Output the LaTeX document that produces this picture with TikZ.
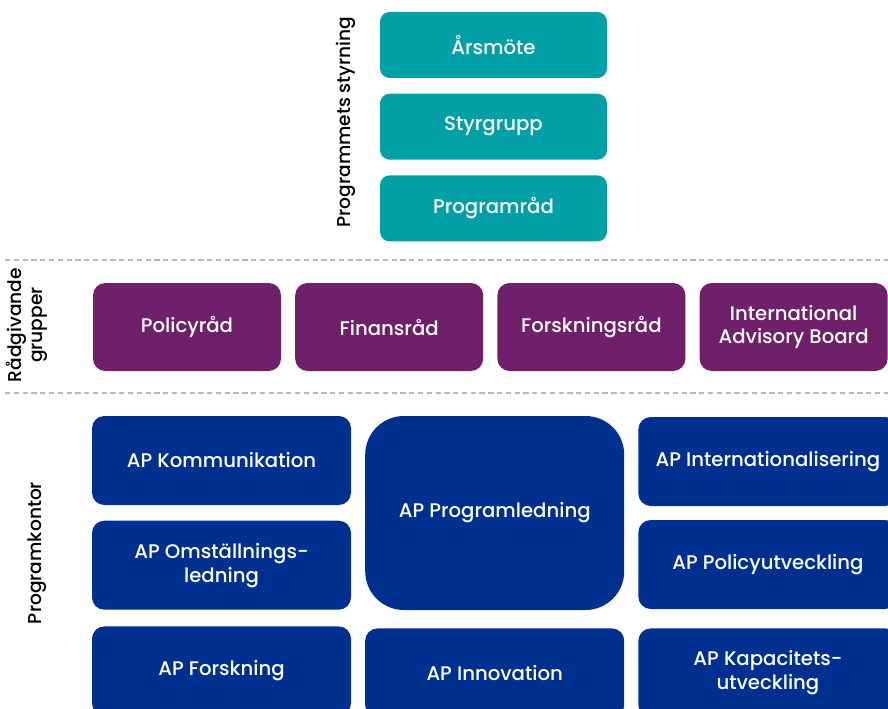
\documentclass[tikz,border=0pt]{standalone}
\usepackage{fontspec}
\setmainfont{Poppins}[UprightFont={* Medium}]
\usetikzlibrary{positioning}
\definecolor{styrteal}{HTML}{00A0A6}
\definecolor{radlila}{HTML}{70206A}
\definecolor{kontorblue}{HTML}{00308F}
\tikzset{box/.style={rectangle, rounded corners=7pt, text=white, align=center, inner sep=0pt, font=\fontsize{11.2}{13.6}\selectfont},
  styrbox/.style={box, fill=styrteal, minimum width=4.54cm, minimum height=1.32cm, rounded corners=5.5pt},
  radbox/.style={box, fill=radlila, minimum width=3.76cm, minimum height=1.76cm},
  apbox/.style={box, fill=kontorblue, minimum width=5.18cm, minimum height=1.78cm},
  sidelabel/.style={rotate=90, align=center, font=\fontsize{10.6}{12.2}\selectfont},
  divider/.style={draw=black!28, dash pattern=on 3pt off 2pt, line width=0.6pt}}

\begin{document}
\begin{tikzpicture}
    \useasboundingbox (0,0) rectangle (17.76,-14.18);
    \clip (0,0) rectangle (17.76,-14.18);
    % styrning
    \node[styrbox] (arsmote) at (9.87,-0.9) {Årsmöte};
    \node[styrbox, below=0.3cm of arsmote] (styrgrupp) {Styrgrupp};
    \node[styrbox, below=0.3cm of styrgrupp] (programrad) {Programråd};
    \node[sidelabel] (styrning) at (6.92,-2.44) {Programmets styrning};
    \draw[divider] (0.1,-5.2) -- (17.76,-5.2);
    % radgivande grupper
    \node[radbox] (policyrad) at (3.74,-6.54) {Policyråd};
    \node[radbox, right=0.27cm of policyrad] (finansrad) {Finansråd};
    \node[radbox, right=0.27cm of finansrad] (forskningsrad) {Forskningsråd};
    \node[radbox, right=0.27cm of forskningsrad] (iab) {International\\Advisory Board};
    \node[sidelabel] (radgivande) at (0.54,-6.5) {Rådgivande\\grupper};
    \draw[divider] (0.1,-7.86) -- (17.76,-7.86);
    % programkontor
    \node[apbox] (kommunikation) at (4.43,-9.21) {AP Kommunikation};
    \node[apbox, below=0.3cm of kommunikation] (omstallning) {AP Omställnings-\\ledning};
    \node[apbox, below=0.32cm of omstallning] (forskning) {AP Forskning};
    \node[apbox, minimum height=3.88cm, rounded corners=22pt, right=0.27cm of kommunikation.north east, anchor=north west] (programledning) {AP Programledning};
    \node[apbox, right=0.27cm of forskning.north east, anchor=north west, yshift=-0.04cm] (innovation) {AP Innovation};
    \node[apbox, right=0.27cm of programledning.north east, anchor=north west, yshift=-0.02cm] (internationalisering) {AP Internationalisering};
    \node[apbox, right=0.27cm of programledning.east, anchor=west, yshift=-1.03cm] (policyutveckling) {AP Policyutveckling};
    \node[apbox, right=0.27cm of innovation.north east, anchor=north west] (kapacitet) {AP Kapacitets-\\utveckling};
    \node[sidelabel] (programkontor) at (0.74,-11.06) {Programkontor};
\end{tikzpicture}
\end{document}
